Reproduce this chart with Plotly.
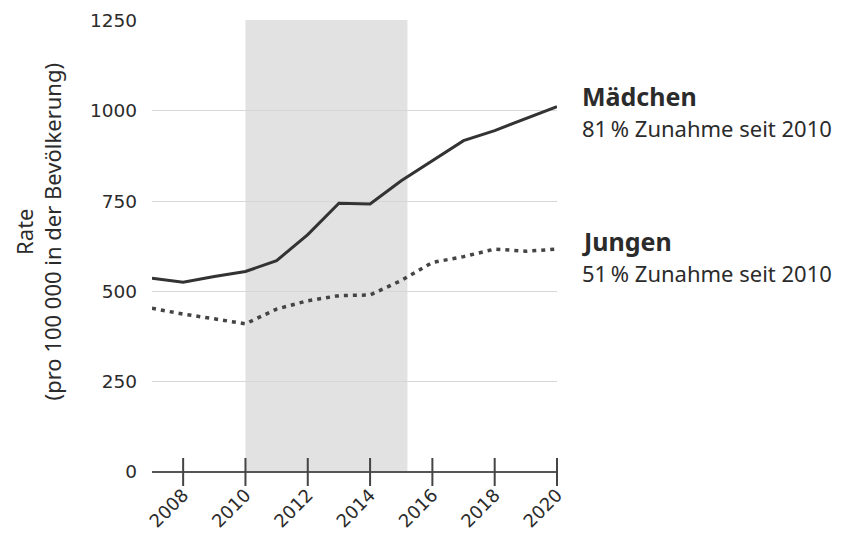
import plotly.graph_objects as go

years = list(range(2007, 2021))
maedchen = [536, 525, 541, 555, 585, 657, 744, 742, 806, 862, 917, 945, 977, 1011]
jungen = [453, 437, 424, 410, 451, 474, 488, 490, 530, 580, 596, 617, 611, 617]
tick_years = [2008, 2010, 2012, 2014, 2016, 2018, 2020]
y_ticks = [0, 250, 500, 750, 1000, 1250]
shade_start, shade_end = 2010, 2015.2

FONT = "Noto Sans"
TICKFONT = "DejaVu Sans"
DARK = "#2b2b2b"

fig = go.Figure()

fig.add_shape(type="rect", x0=shade_start, x1=shade_end, y0=0, y1=1,
              xref="x", yref="y domain",
              fillcolor="#e2e2e2", line_width=0, layer="below")

fig.add_trace(go.Scatter(x=years, y=maedchen, mode="lines",
                         line=dict(color="#333333", width=3), name="Mädchen",
                         hoverinfo="skip"))
fig.add_trace(go.Scatter(x=years, y=jungen, mode="lines",
                         line=dict(color="#444444", width=3.5, dash="4px,5px"), name="Jungen",
                         hoverinfo="skip"))
# crossing tick marks on the x axis
fig.add_trace(go.Scatter(x=tick_years, y=[0] * len(tick_years), mode="markers",
                         marker=dict(symbol="line-ns-open", size=20, color="#444444",
                                     line=dict(color="#444444", width=2)),
                         cliponaxis=False, hoverinfo="skip"))

fig.update_layout(
    width=835, height=531,
    margin=dict(l=144, r=286, t=12, b=67),
    paper_bgcolor="white", plot_bgcolor="white",
    showlegend=False,
    font=dict(family=FONT, color=DARK),
    xaxis=dict(range=[2007, 2020], tickvals=tick_years, ticktext=[str(t) for t in tick_years],
               tickangle=-45, showgrid=False, zeroline=False, automargin=False,
               showline=False, ticks="", tickfont=dict(size=18, color=DARK, family=TICKFONT),
               ticklabelstandoff=8),
    yaxis=dict(range=[0, 1251], tickvals=y_ticks, ticktext=[str(v) for v in y_ticks],
               showgrid=True, gridcolor="#d6d6d6", gridwidth=1, automargin=False,
               zeroline=True, zerolinecolor="#555555", zerolinewidth=2,
               showline=False, ticks="", tickfont=dict(size=18.5, color=DARK, family=TICKFONT),
               ticklabelstandoff=14),
)

fig.add_annotation(text="Rate<br>(pro 100 000 in der Bevölkerung)", textangle=-90,
                   xref="paper", yref="paper", x=0, y=0.53, xanchor="center", yanchor="middle",
                   xshift=-114, showarrow=False, font=dict(size=22, color=DARK, family=FONT))

labels = [
    ("Mädchen", 96, 25, True),
    ("81\u2009% Zunahme seit 2010", 128, 22, False),
    ("Jungen", 241, 25, True),
    ("51\u2009% Zunahme seit 2010", 273, 22, False),
]
for text, ypix, size, bold in labels:
    fig.add_annotation(text=f"<b>{text}</b>" if bold else text,
                       xref="paper", yref="paper", x=1, y=(472 - ypix) / 452,
                       xanchor="left", yanchor="middle", xshift=23, showarrow=False,
                       font=dict(size=size, color=DARK, family=FONT))

fig.write_html("out.html")
